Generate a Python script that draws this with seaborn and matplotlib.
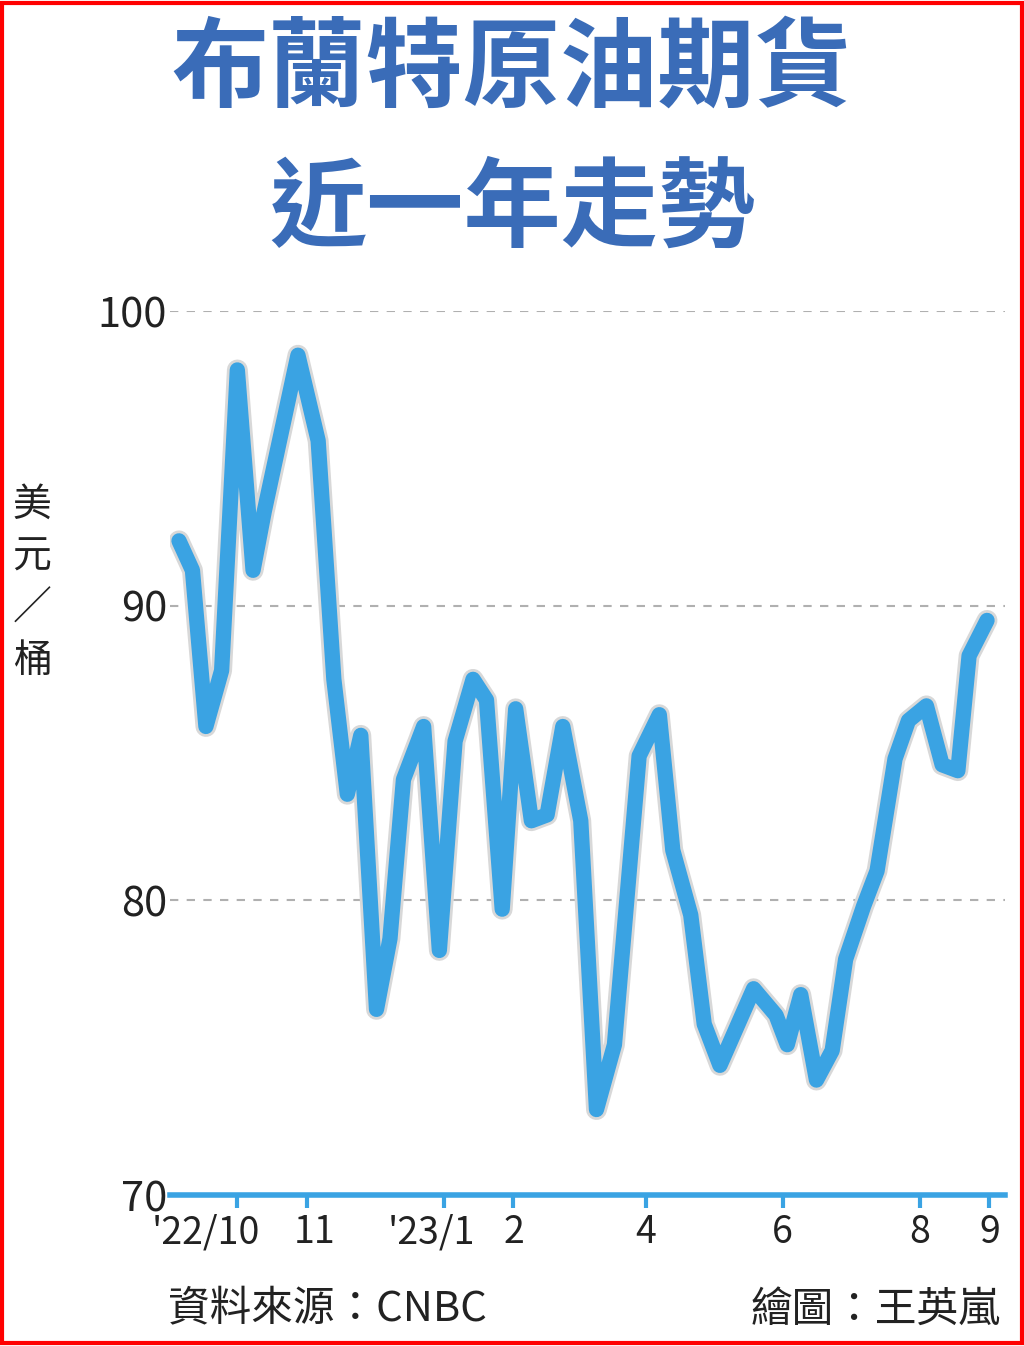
import pandas as pd
import numpy as np
import matplotlib
matplotlib.use("Agg")
import matplotlib.pyplot as plt
import matplotlib.patheffects as pe
import matplotlib.transforms as mtransforms
import seaborn as sns

# days since 2022-10-01
day_offsets = [-26, -20, -14, -7, 0, 7, 12, 27, 36, 43, 49, 55, 62, 68, 74, 83, 90, 97,
               105, 111, 118, 124, 131, 138, 145, 153, 160, 168, 179, 188, 194, 202, 208,
               215, 230, 240, 245, 251, 258, 265, 271, 279, 285, 293, 299, 307, 314, 321,
               326, 334]
prices = [92.2, 91.2, 85.9, 87.8, 98.0, 91.2, 93.2, 98.5, 95.6, 87.5, 83.6, 85.6, 76.3,
          78.7, 84.1, 85.9, 78.3, 85.4, 87.5, 86.8, 79.7, 86.5, 82.7, 82.9, 85.9, 82.7,
          72.9, 75.1, 84.9, 86.3, 81.7, 79.5, 75.8, 74.4, 77.0, 76.1, 75.1, 76.8, 73.9,
          74.9, 78.0, 79.8, 81.0, 84.8, 86.1, 86.6, 84.6, 84.4, 88.3, 89.5]
tick_dates = ["2022-10-01", "2022-11-01", "2023-01-01", "2023-02-01", "2023-04-01",
              "2023-06-01", "2023-08-01", "2023-09-01"]
tick_labels = ["'22/10", "11", "'23/1", "2", "4", "6", "8", "9"]

start = pd.Timestamp("2022-10-01")
df = pd.DataFrame({"date": [start + pd.Timedelta(days=d) for d in day_offsets],
                   "price": prices})

sns.set_theme(style="white")
plt.rcParams["font.family"] = ["Noto Sans CJK TC", "DejaVu Sans"]

fig = plt.figure(figsize=(10.24, 13.46), dpi=100)
ax = fig.add_axes([170 / 1024, 1 - 1195 / 1346, (1005 - 170) / 1024, (1195 - 311) / 1346])

blue = "#3aa3e3"
sns.lineplot(data=df, x="date", y="price", ax=ax, color=blue, linewidth=11,
             solid_joinstyle="round", solid_capstyle="round", zorder=3,
             path_effects=[pe.Stroke(linewidth=15, foreground="#d8d8d8"), pe.Normal()])

ax.set_ylim(70, 100)
ax.set_xlim(pd.Timestamp("2022-09-01"), pd.Timestamp("2023-09-08"))
for v in [80, 90, 100]:
    ax.axhline(v, color="#b0b0b0", ls=(0, (4, 4)), lw=1.5, zorder=1)
ax.set_yticks([70, 80, 90, 100])
ax.set_yticklabels(["70", "80", "90", "100"], fontsize=30, color="#222")
ax.set_xticks(pd.to_datetime(tick_dates))
ax.set_xticklabels(tick_labels, fontsize=27, color="#222")
ax.tick_params(axis="y", length=0, pad=2)
ax.tick_params(axis="x", bottom=True, length=9, width=3, color=blue, direction="out", pad=4)
labs = ax.get_xticklabels()
for lab, dx in [(labs[0], -32), (labs[1], 8), (labs[2], -12)]:
    lab.set_transform(lab.get_transform() + mtransforms.ScaledTranslation(dx / 100, 0, fig.dpi_scale_trans))
ax.set_xlabel("")
ax.set_ylabel("")
for s in ["top", "right", "left"]:
    ax.spines[s].set_visible(False)
ax.spines["bottom"].set_color(blue)
ax.spines["bottom"].set_linewidth(4)

title_color = "#3a6cb8"
fig.text(0.5, 1 - 70 / 1346, "布蘭特原油期貨", ha="center", va="center",
         fontsize=70, fontweight="bold", color=title_color)
fig.text(0.5, 1 - 210 / 1346, "近一年走勢", ha="center", va="center",
         fontsize=70, fontweight="bold", color=title_color)
for i, ch in enumerate(["美", "元", "／", "桶"]):
    fig.text(32 / 1024, 1 - (505 + i * 52) / 1346, ch, ha="center", va="center",
             fontsize=28, color="#222")
fig.text(168 / 1024, 1 - 1310 / 1346, "資料來源：CNBC", ha="left", va="center",
         fontsize=30, color="#222")
fig.text(1000 / 1024, 1 - 1310 / 1346, "繪圖：王英嵐", ha="right", va="center",
         fontsize=30, color="#222")

fig.patches.append(plt.Rectangle((0.002, 0.002), 0.996, 0.996, transform=fig.transFigure,
                                 fill=False, edgecolor="red", linewidth=3))

fig.savefig("out.png", dpi=100)
